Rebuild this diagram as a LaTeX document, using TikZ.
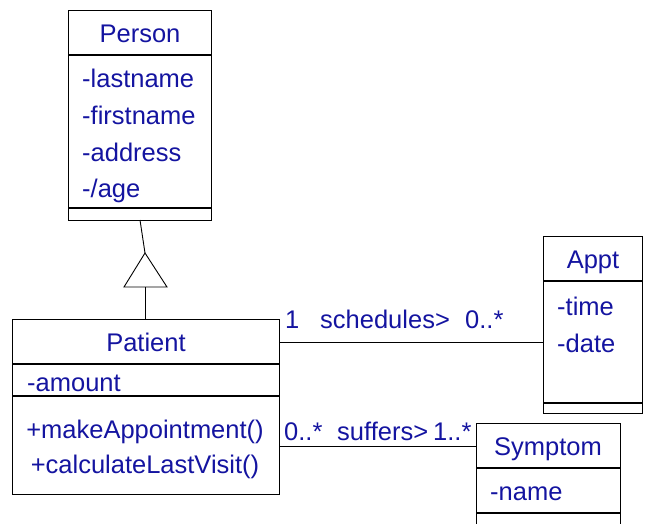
\documentclass[tikz,border=0pt]{standalone}
\usepackage{fontspec}
\setmainfont{Liberation Sans}
\definecolor{umlblue}{RGB}{20,20,160}
\begin{document}
\begin{tikzpicture}[x=1pt,y=-1pt,
	box/.style={line width=1pt},
	bar/.style={line width=1.7pt},
	link/.style={line width=0.9pt},
	txt/.style={text=umlblue, inner sep=0pt, font=\fontsize{25.5}{30}\selectfont}]
			%%%%% START %%%%%
			\useasboundingbox (0,0) rectangle (649,523);
			
			% Person
			\draw[box] (68,10) rectangle (211,220);
			\draw[bar] (68,55) -- (211,55);
			\draw[bar] (68,208) -- (211,208);
			\node[txt, anchor=base] (person) at (140,42) {Person};
			\node[txt, anchor=base west] (lastname) at (82,87) {-lastname};
			\node[txt, anchor=base west] (firstname) at (82,124) {-firstname};
			\node[txt, anchor=base west] (address) at (82,161) {-address};
			\node[txt, anchor=base west] (age) at (82,197) {-/age};
			
			% Patient
			\draw[box] (12,319) rectangle (279,494);
			\draw[bar] (12,364) -- (279,364);
			\draw[bar] (12,396) -- (279,396);
			\node[txt, anchor=base] (patient) at (146,351) {Patient};
			\node[txt, anchor=base west] (amount) at (27,391) {-amount};
			\node[txt, anchor=base] (makeappt) at (145,438) {+makeAppointment()};
			\node[txt, anchor=base] (lastvisit) at (145,473) {+calculateLastVisit()};
			
			% Appt
			\draw[box] (543,236) rectangle (642,413);
			\draw[bar] (543,281) -- (642,281);
			\draw[bar] (543,403) -- (642,403);
			\node[txt, anchor=base] (appt) at (593,268) {Appt};
			\node[txt, anchor=base west] (time) at (557,315) {-time};
			\node[txt, anchor=base west] (date) at (557,352) {-date};
			
			% Symptom
			\draw[box] (476,530) -- (476,423) -- (620,423) -- (620,530);
			\draw[bar] (476,468) -- (620,468);
			\draw[bar] (476,513) -- (620,513);
			\node[txt, anchor=base] (symptom) at (548,455) {Symptom};
			\node[txt, anchor=base west] (name) at (490,500) {-name};
			
			% generalisation
			\coordinate (personS) at (140,220);
			\coordinate (tip) at (145,253);
			\coordinate (baseL) at (124,287);
			\coordinate (baseR) at (167,287);
			\coordinate (baseM) at (145,287);
			\coordinate (patientN) at (145,319);
			\draw[link] (personS) -- (tip);
			\draw[link] (tip) -- (baseR) -- (baseL) -- cycle;
			\draw[link] (baseM) -- (patientN);
			
			% schedules
			\coordinate (patE1) at (279,342);
			\coordinate (apptW) at (543,342);
			\draw[link] (patE1) -- (apptW);
			\node[txt, anchor=base west] (one) at (285,328) {1};
			\node[txt, anchor=base west] (sched) at (320,328) {schedules>};
			\node[txt, anchor=base west] (many1) at (465,328) {0..*};
			
			% suffers
			\coordinate (patE2) at (279,446);
			\coordinate (sympW) at (476,446);
			\draw[link] (patE2) -- (sympW);
			\node[txt, anchor=base west] (many2) at (284,440) {0..*};
			\node[txt, anchor=base west] (suff) at (337,440) {suffers>};
			\node[txt, anchor=base west] (many3) at (433,440) {1..*};
			
			%%%%% END %%%%%
\end{tikzpicture}
\end{document}
